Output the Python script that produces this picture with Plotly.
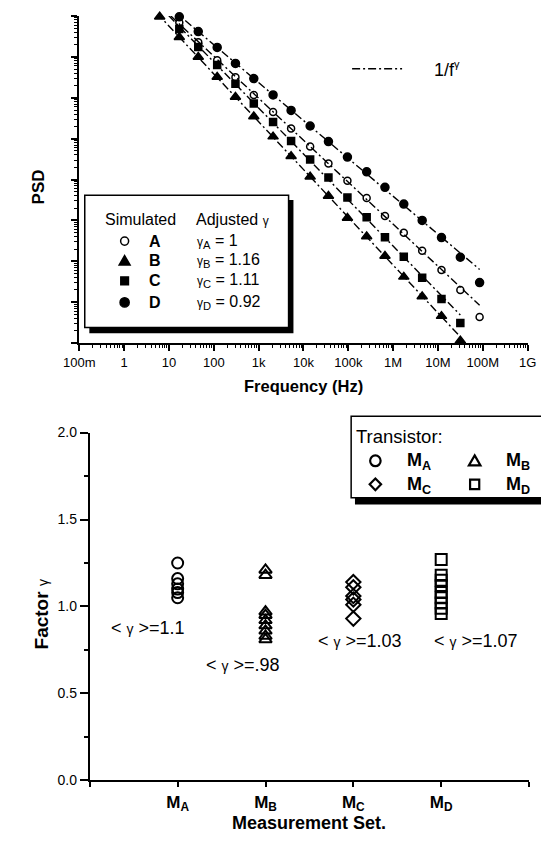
import numpy as np
import plotly.graph_objects as go

PAGE_W, PAGE_H = 549, 842
OFF = 8                      # default page body margin
W, H = PAGE_W - OFF, PAGE_H - OFF
FONT = "Liberation Sans"

# ---------------- top chart data ----------------
freq_hz = [6.2, 17, 45, 119, 304, 780, 2.1e3, 5.3e3, 1.41e4, 3.61e4, 9.57e4,
           2.57e5, 6.58e5, 1.73e6, 4.45e6, 1.2e7, 3.16e7, 8.5e7]
# PSD values as log10 exponents (arbitrary units), None = no point
psd_a_exp = [None, 7.84, 7.36, 6.92, 6.50, 6.07, 5.65, 5.25, 4.81, 4.39, 3.97,
             3.55, 3.11, 2.70, 2.26, 1.79, 1.30, 0.64]
psd_b_exp = [7.98, 7.48, 7.00, 6.51, 6.02, 5.54, 5.05, 4.57, 4.07, 3.60, 3.06,
             2.61, 2.13, 1.62, 1.14, 0.66, 0.06, None]
psd_c_exp = [None, 7.68, 7.24, 6.80, 6.34, 5.86, 5.41, 4.94, 4.49, 4.05, 3.56,
             3.08, 2.59, 2.11, 1.60, 1.08, 0.49, None]
psd_d_exp = [None, 7.98, 7.62, 7.23, 6.84, 6.47, 6.07, 5.69, 5.31, 4.93, 4.55,
             4.19, 3.81, 3.40, 3.00, 2.58, 2.10, 1.48]
sim_names = ["A", "B", "C", "D"]
gamma_fit_labels = ["1", "1.16", "1.11", "0.92"]

freq_tick_vals = [0.1, 1, 10, 100, 1e3, 1e4, 1e5, 1e6, 1e7, 1e8, 1e9]
freq_tick_labels = ["100m", "1", "10", "100", "1k", "10k", "100k", "1M", "10M", "100M", "1G"]

# ---------------- bottom chart data ----------------
set_labels = ["M<sub>A</sub>", "M<sub>B</sub>", "M<sub>C</sub>", "M<sub>D</sub>"]
gamma_ma = [1.25, 1.16, 1.13, 1.10, 1.08, 1.05]
gamma_mb = [1.21, 1.18, 0.97, 0.95, 0.92, 0.89, 0.86, 0.83, 0.81]
gamma_mc = [1.14, 1.11, 1.06, 1.04, 1.01, 0.93]
gamma_md = [1.27, 1.18, 1.15, 1.12, 1.08, 1.05, 1.02, 0.99, 0.96]
mean_labels = ["1.1", ".98", "1.03", "1.07"]

# ---------------- styling ----------------
top_symbols = ["circle-open", "triangle-up", "square", "circle"]
top_sizes = [7, 9, 7, 8]
bot_symbols = ["circle-open", "triangle-up-open", "diamond-open", "square-open"]
DASH = "8px,3px,2px,3px"


def X(p):
    return (p - OFF) / W


def Y(p):
    return 1 - (p - OFF) / H


def clamp(v):
    return max(0.0, min(1.0, v))


fig = go.Figure()

for name, exps, sym, sz in zip(sim_names, [psd_a_exp, psd_b_exp, psd_c_exp, psd_d_exp],
                               top_symbols, top_sizes):
    fx = np.array([f for f, v in zip(freq_hz, exps) if v is not None])
    fv = np.array([v for v in exps if v is not None])
    # fitted 1/f^gamma line (least squares in log-log, tail point excluded)
    coef = np.polyfit(np.log10(fx[:-1]), fv[:-1], 1)
    lx = np.logspace(0, np.log10(fx.max()), 60)
    ly = 10 ** np.polyval(coef, np.log10(lx))
    fig.add_trace(go.Scatter(x=lx, y=ly, mode="lines", xaxis="x", yaxis="y",
                             line=dict(color="black", width=1.4, dash=DASH),
                             hoverinfo="skip"))
    fig.add_trace(go.Scatter(x=fx, y=10 ** fv, mode="markers", xaxis="x", yaxis="y",
                             name=name, cliponaxis=False,
                             marker=dict(symbol=sym, size=sz, color="black",
                                         line=dict(color="black", width=1.5))))

for i, (vals, sym) in enumerate(zip([gamma_ma, gamma_mb, gamma_mc, gamma_md], bot_symbols)):
    fig.add_trace(go.Scatter(x=[i + 1] * len(vals), y=vals, mode="markers",
                             xaxis="x2", yaxis="y2", cliponaxis=False,
                             marker=dict(symbol=sym, size=11, color="black",
                                         line=dict(color="black", width=2))))

minor_top_x = [m * 10.0 ** k for k in range(-1, 9) for m in range(2, 10)]
minor_top_y = [m * 10.0 ** k for k in range(0, 8) for m in range(2, 10)]

axis_common = dict(showline=True, linecolor="black", linewidth=2, showgrid=False,
                   zeroline=False, ticks="outside", tickcolor="black")

fig.update_layout(
    width=W, height=H, margin=dict(l=0, r=0, t=0, b=0),
    paper_bgcolor="white", plot_bgcolor="white", showlegend=False,
    font=dict(family=FONT, color="black"),
    xaxis=dict(type="log", range=[-1, 9], domain=[X(66), X(536)], anchor="y",
               tickmode="array", tickvals=freq_tick_vals, ticktext=freq_tick_labels,
               ticklen=6, tickwidth=1.5, tickfont=dict(size=13),
               minor=dict(tickmode="array", tickvals=minor_top_x, ticks="outside",
                          ticklen=3, tickwidth=1, tickcolor="black"),
               **axis_common),
    yaxis=dict(type="log", range=[0, 8], domain=[Y(341.5), clamp(Y(6.0))], anchor="x",
               dtick=1, showticklabels=False, ticklen=6, tickwidth=1.5,
               minor=dict(tickmode="array", tickvals=minor_top_y, ticks="outside",
                          ticklen=3, tickwidth=1, tickcolor="black"),
               **axis_common),
    xaxis2=dict(range=[0, 5], domain=[X(77), X(537.5)], anchor="y2",
                tickmode="array", tickvals=[0, 1, 2, 3, 4, 5],
                ticktext=[" "] + ["<b>" + s + "</b>" for s in set_labels] + [" "],
                ticklen=5, tickwidth=2, tickfont=dict(size=17),
                **axis_common),
    yaxis2=dict(range=[0, 2], domain=[Y(787.3), Y(432.7)], anchor="x2",
                dtick=0.5, tickformat=".1f", ticklen=8, tickwidth=1.5,
                tickfont=dict(size=14),
                minor=dict(dtick=0.25, ticks="outside", ticklen=4, tickwidth=1.5,
                           tickcolor="black"),
                **axis_common),
)

shapes = [
    # top legend shadow + box
    dict(type="rect", xref="paper", yref="paper", x0=X(76.5), x1=X(290.5),
         y0=Y(331.5), y1=Y(195.5), fillcolor="black", line=dict(width=0), layer="above"),
    dict(type="rect", xref="paper", yref="paper", x0=X(71.7), x1=X(285.4),
         y0=Y(325.5), y1=Y(190.7), fillcolor="white",
         line=dict(color="black", width=1.5), layer="above"),
    # 1/f^gamma legend line
    dict(type="line", xref="paper", yref="paper", x0=X(352), x1=X(404.4),
         y0=Y(61.7), y1=Y(61.7), line=dict(color="black", width=1.5, dash=DASH)),
    # bottom legend shadow + box
    dict(type="rect", xref="paper", yref="paper", x0=X(355), x1=X(560),
         y0=Y(506), y1=Y(495), fillcolor="black", line=dict(width=0), layer="above"),
    dict(type="rect", xref="paper", yref="paper", x0=X(351), x1=X(560),
         y0=Y(499.3), y1=Y(416), fillcolor="white",
         line=dict(color="black", width=1.5), layer="above"),
]


def glyph(kind, cx, cy, r, filled, lw):
    """Legend key glyph drawn as a shape (pixel centre cx, cy; half size r)."""
    fill = "black" if filled else "rgba(0,0,0,0)"
    base = dict(xref="paper", yref="paper", fillcolor=fill,
                line=dict(color="black", width=lw), layer="above")
    if kind == "circle":
        return dict(type="circle", x0=X(cx - r), x1=X(cx + r),
                    y0=Y(cy + r), y1=Y(cy - r), **base)
    if kind == "square":
        return dict(type="rect", x0=X(cx - r), x1=X(cx + r),
                    y0=Y(cy + r), y1=Y(cy - r), **base)
    if kind == "triangle":
        pts = [(cx, cy - r), (cx + r * 1.1, cy + r * 0.85), (cx - r * 1.1, cy + r * 0.85)]
    else:  # diamond
        pts = [(cx, cy - r * 1.15), (cx + r * 1.15, cy), (cx, cy + r * 1.15), (cx - r * 1.15, cy)]
    path = "M " + " L ".join(f"{X(px):.5f},{Y(py):.5f}" for px, py in pts) + " Z"
    return dict(type="path", path=path, **base)


row_y = [237.5, 257.5, 278, 300]
top_glyphs = [("circle", False, 4.2), ("triangle", True, 5.2), ("square", True, 4.0),
              ("circle", True, 4.8)]
for (kind, filled, r), ry in zip(top_glyphs, row_y):
    shapes.append(glyph(kind, 113.5, ry, r, filled, 1.5))

bot_glyph_specs = [("circle", 5.5), ("triangle", 5.5), ("diamond", 5.2), ("square", 4.8)]
glyph_pos = [(376.4, 461.5), (480.5, 461.5), (376.4, 485.5), (480.5, 485.5)]
for (kind, r), (gx, gy) in zip(bot_glyph_specs, glyph_pos):
    shapes.append(glyph(kind, gx, gy, r, False, 2.2))

fig.update_layout(shapes=shapes)

anns = []


def ann(text, x, y, size, xanchor="center", angle=0, family=FONT):
    anns.append(dict(text=text, x=X(x), y=Y(y), xref="paper", yref="paper",
                     xanchor=xanchor, yanchor="middle", showarrow=False,
                     textangle=angle, font=dict(size=size, family=family, color="black")))


g_small = '<span style="font-size:12px">γ</span>'
g_mid = '<span style="font-size:14px">γ</span>'

# axis titles
ann("<b>PSD</b>", 23, 182.5, 17, angle=-90)
ann("<b>Frequency (Hz)</b>", 301, 385, 16.5)
ann("<b>Factor</b> " + g_mid, 26, 618, 19, angle=-90)
ann("<b>Measurement Set.</b>", 307, 831, 18)

# top legend contents
ann("Simulated", 130.6, 215, 16)
ann("Adjusted " + g_small, 226.6, 215, 16)
for name, lab, ry in zip(sim_names, gamma_fit_labels, row_y):
    ann("<b>" + name + "</b>", 145.5, ry, 16)
    ann(g_small + "<sub>" + name + "</sub> = " + lab, 187, ry, 16, xanchor="left")

# 1/f^gamma label
ann("1/f<sup>" + '<span style="font-size:11px">γ</span>' + "</sup>", 436, 61.7, 18,
    xanchor="left")

# bottom legend
ann("Transistor:", 353.5, 436.5, 18.5, xanchor="left")
for s, (gx, gy) in zip(set_labels, glyph_pos):
    ann("<b>" + s + "</b>", gx + 31, gy + 1, 18, xanchor="left")

# mean annotations
mean_pos = [(138, 631.7), (238, 670), (360.6, 645.7), (481.5, 645.7)]
for lab, (mx, my) in zip(mean_labels, mean_pos):
    ann("< " + g_mid + " >=" + lab, mx, my, 18)

fig.update_layout(annotations=anns)

fig.write_html("out.html")
